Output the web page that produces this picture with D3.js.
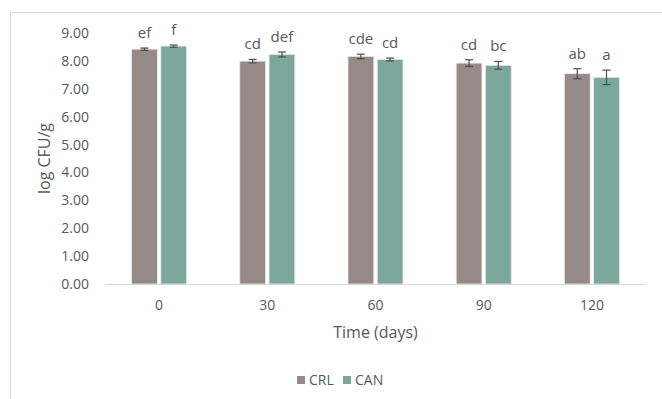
<!DOCTYPE html>
<meta charset="utf-8">
<style>
  body { margin: 0; background: #fff; }
  text { font-family: "Open Sans", sans-serif; fill: #595959; }
</style>
<script src="https://d3js.org/d3.v7.min.js"></script>
<div id="chart"></div>
<script>

// data
const days = ["0", "30", "60", "90", "120"];
const series = ["CRL", "CAN"];
const crl = [8.42, 7.99, 8.16, 7.92, 7.54];
const can = [8.53, 8.23, 8.05, 7.84, 7.41];
const crlErr = [0.04, 0.06, 0.08, 0.12, 0.18];
const canErr = [0.04, 0.09, 0.05, 0.14, 0.26];
const crlLetters = ["ef", "cd", "cde", "cd", "ab"];
const canLetters = ["f", "def", "cd", "bc", "a"];
const yTicks = [0, 1, 2, 3, 4, 5, 6, 7, 8, 9];

const colors = {CRL: "#958a88", CAN: "#7ca89c"};

const W = 662, H = 399;
const margin = {top: 33, right: 16, bottom: 115, left: 105};
const width = W - margin.left - margin.right,
      height = H - margin.top - margin.bottom;

const svg = d3.select("#chart").append("svg")
    .attr("width", W).attr("height", H);

// chart frame
svg.append("rect")
    .attr("x", 10.5).attr("y", 12.5)
    .attr("width", W + 10).attr("height", H + 10)
    .attr("fill", "none").attr("stroke", "#d9d9d9");

const g = svg.append("g")
    .attr("transform", `translate(${margin.left},${margin.top})`);

const x = d3.scaleBand().domain(days).range([0, width]);
const xs = d3.scaleBand().domain(series).range([0, 55]).paddingInner(0.12);
const y = d3.scaleLinear().domain([0, 9]).range([height, 0]);

const rows = days.map((d, i) => ({
  day: d,
  vals: [
    {s: "CRL", v: crl[i], e: crlErr[i], l: crlLetters[i]},
    {s: "CAN", v: can[i], e: canErr[i], l: canLetters[i]}
  ]
}));

// y axis labels
g.append("g")
    .call(d3.axisLeft(y).tickValues(yTicks).tickFormat(d3.format(".2f")).tickSize(0).tickPadding(16))
    .call(a => a.select(".domain").remove())
    .selectAll("text").style("font-size", "14px").attr("fill", "#595959");

const groups = g.selectAll(".grp").data(rows).join("g")
    .attr("transform", d => `translate(${x(d.day) + (x.bandwidth() - 55) / 2},0)`);

groups.selectAll("rect").data(d => d.vals).join("rect")
    .attr("x", d => xs(d.s))
    .attr("y", d => y(d.v))
    .attr("width", xs.bandwidth())
    .attr("height", d => y(0) - y(d.v))
    .attr("fill", d => colors[d.s])
    .attr("stroke", "#e6e6e6").attr("stroke-width", 0.8);

// error bars
const eb = groups.selectAll(".eb").data(d => d.vals).join("g")
    .attr("stroke", "#4d4d4d").attr("stroke-width", 1.2);
eb.append("line")
    .attr("x1", d => xs(d.s) + xs.bandwidth() / 2).attr("x2", d => xs(d.s) + xs.bandwidth() / 2)
    .attr("y1", d => y(d.v + d.e)).attr("y2", d => y(d.v - d.e));
eb.append("line")
    .attr("x1", d => xs(d.s) + xs.bandwidth() / 2 - 4).attr("x2", d => xs(d.s) + xs.bandwidth() / 2 + 4)
    .attr("y1", d => y(d.v + d.e)).attr("y2", d => y(d.v + d.e));
eb.append("line")
    .attr("x1", d => xs(d.s) + xs.bandwidth() / 2 - 4).attr("x2", d => xs(d.s) + xs.bandwidth() / 2 + 4)
    .attr("y1", d => y(d.v - d.e)).attr("y2", d => y(d.v - d.e));

// significance letters
groups.selectAll(".lbl").data(d => d.vals).join("text")
    .attr("x", d => xs(d.s) + xs.bandwidth() / 2)
    .attr("y", d => y(d.v + d.e) - 10)
    .attr("text-anchor", "middle")
    .style("font-size", "15px")
    .attr("fill", "#404040")
    .text(d => d.l);

// x axis
g.append("line")
    .attr("x1", 0).attr("x2", width)
    .attr("y1", height + 0.5).attr("y2", height + 0.5)
    .attr("stroke", "#d9d9d9").attr("stroke-width", 1.2);
g.selectAll(".xt").data(days).join("text")
    .attr("x", d => x(d) + x.bandwidth() / 2)
    .attr("y", height + 26)
    .attr("text-anchor", "middle")
    .style("font-size", "14px")
    .text(d => d);

// axis titles
g.append("text")
    .attr("x", width / 2).attr("y", height + 54)
    .attr("text-anchor", "middle")
    .style("font-size", "16px")
    .text("Time (days)");
svg.append("text")
    .attr("transform", `translate(50,${margin.top + height / 2}) rotate(-90)`)
    .attr("text-anchor", "middle")
    .style("font-size", "16px")
    .text("log CFU/g");

// legend
const leg = svg.append("g").attr("transform", "translate(297,380)");
const li = leg.selectAll("g").data(series).join("g")
    .attr("transform", (d, i) => `translate(${i * 46},0)`);
li.append("rect").attr("x", 0).attr("y", -4).attr("width", 8).attr("height", 8)
    .attr("fill", d => colors[d]);
li.append("text").attr("x", 12).attr("y", 0).attr("dy", "0.35em")
    .style("font-size", "14px").text(d => d);

</script>
